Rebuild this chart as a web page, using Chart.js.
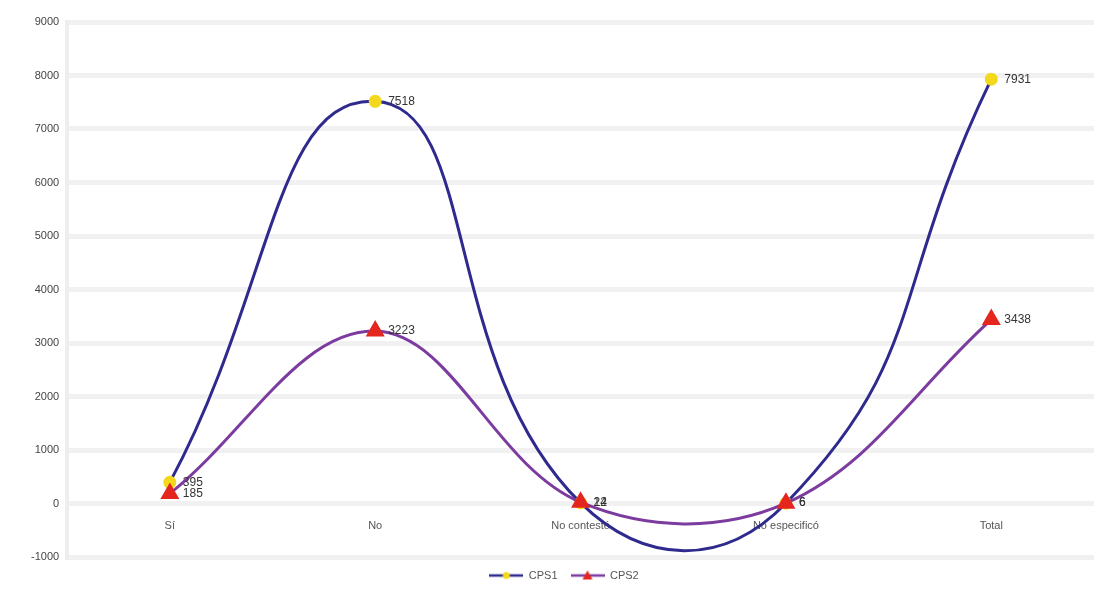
<!DOCTYPE html>
<html>
<head>
<meta charset="utf-8">
<script src="https://cdn.jsdelivr.net/npm/chart.js@4.4.1/dist/chart.umd.min.js"></script>
<style>
  html, body { margin: 0; padding: 0; background: #ffffff; }
  #wrap { width: 1105px; height: 603px; position: relative; }
</style>
</head>
<body>
<div id="wrap"><canvas id="chart"></canvas></div>
<script>
// categories and series
const categories = ['Sí', 'No', 'No contestó', 'No especificó', 'Total'];
const cps1 = [395, 7518, 12, 6, 7931];
const cps2 = [185, 3223, 24, 6, 3438];
const yTicks = [-1000, 0, 1000, 2000, 3000, 4000, 5000, 6000, 7000, 8000, 9000];

const COLORS = {
  cps1Line: '#2f2a8e',
  cps1Point: '#f4d81c',
  cps2Line: '#7c3b9f',
  cps2Point: '#e5261f',
  text: '#444444',
  grid: '#f1f1f1'
};

// legend swatch: short line with the marker in the middle
function legendSwatch(lineColor, pointColor, shape) {
  const c = document.createElement('canvas');
  c.width = 34; c.height = 12;
  const ctx = c.getContext('2d');
  ctx.strokeStyle = lineColor;
  ctx.lineWidth = 2.5;
  ctx.beginPath(); ctx.moveTo(0, 6); ctx.lineTo(34, 6); ctx.stroke();
  ctx.fillStyle = pointColor;
  ctx.beginPath();
  if (shape === 'triangle') {
    ctx.moveTo(17, 1); ctx.lineTo(22, 10); ctx.lineTo(12, 10); ctx.closePath();
  } else {
    ctx.arc(17, 6, 3.5, 0, Math.PI * 2);
  }
  ctx.fill();
  return c;
}

// value labels to the right of each point
const valueLabels = {
  id: 'valueLabels',
  afterDatasetsDraw(chart) {
    const ctx = chart.ctx;
    ctx.save();
    ctx.font = '12px "Liberation Sans", Arial, sans-serif';
    ctx.fillStyle = '#333333';
    ctx.textAlign = 'left';
    ctx.textBaseline = 'middle';
    chart.data.datasets.forEach((ds, i) => {
      const meta = chart.getDatasetMeta(i);
      meta.data.forEach((pt, j) => {
        ctx.fillText(String(ds.data[j]), pt.x + 13, pt.y);
      });
    });
    ctx.restore();
  }
};

new Chart(document.getElementById('chart'), {
  type: 'line',
  data: {
    labels: categories,
    datasets: [
      {
        label: 'CPS1',
        data: cps1,
        order: 1,
        borderColor: COLORS.cps1Line,
        borderWidth: 3,
        tension: 0.5,
        pointStyle: 'circle',
        pointRadius: 5,
        pointBackgroundColor: COLORS.cps1Point,
        pointBorderColor: COLORS.cps1Point,
        _swatch: legendSwatch(COLORS.cps1Line, COLORS.cps1Point, 'circle')
      },
      {
        label: 'CPS2',
        data: cps2,
        order: 0,
        borderColor: COLORS.cps2Line,
        borderWidth: 3,
        tension: 0.37,
        pointStyle: 'triangle',
        pointRadius: 8,
        pointBackgroundColor: COLORS.cps2Point,
        pointBorderColor: COLORS.cps2Point,
        _swatch: legendSwatch(COLORS.cps2Line, COLORS.cps2Point, 'triangle')
      }
    ]
  },
  options: {
    responsive: true,
    maintainAspectRatio: false,
    animation: false,
    elements: { line: { capBezierPoints: false } },
    layout: { padding: { top: 22, right: 0, left: 23, bottom: 12 } },
    plugins: {
      legend: {
        position: 'bottom',
        labels: {
          usePointStyle: true,
          pointStyleWidth: 34,
          boxHeight: 12,
          padding: 13,
          color: '#555555',
          font: { size: 11, family: '"Liberation Sans", Arial, sans-serif' },
          generateLabels(chart) {
            return chart.data.datasets.map((ds, i) => ({
              text: ds.label,
              pointStyle: ds._swatch,
              fillStyle: ds.borderColor,
              strokeStyle: ds.borderColor,
              lineWidth: 0,
              fontColor: '#555555',
              hidden: false,
              datasetIndex: i
            }));
          }
        }
      },
      tooltip: { enabled: false }
    },
    scales: {
      x: {
        position: { y: 0 },
        offset: true,
        grid: { display: false },
        border: { display: false },
        ticks: { color: '#555555', padding: 8, font: { size: 11, family: '"Liberation Sans", Arial, sans-serif' } }
      },
      y: {
        min: yTicks[0],
        max: yTicks[yTicks.length - 1],
        afterBuildTicks(axis) { axis.ticks = yTicks.map(v => ({ value: v })); },
        grid: { color: COLORS.grid, lineWidth: 5, drawTicks: false },
        border: { display: true, color: '#eeeeee', width: 4 },
        ticks: {
          color: COLORS.text,
          padding: 8,
          font: { size: 11, family: '"Liberation Sans", Arial, sans-serif' },
          callback: v => String(v)
        }
      }
    }
  },
  plugins: [valueLabels]
});
</script>
</body>
</html>
